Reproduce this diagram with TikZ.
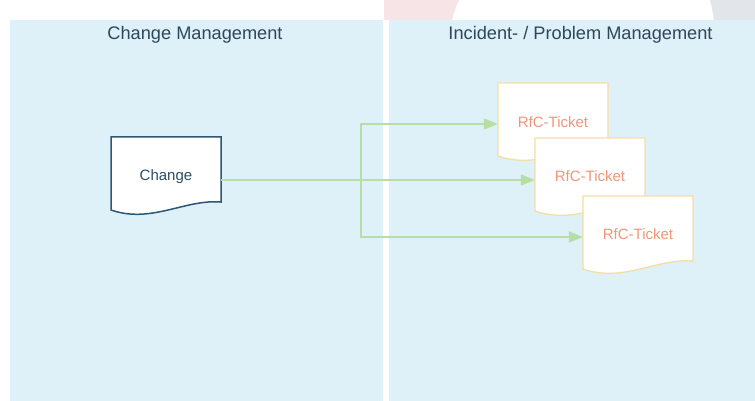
\documentclass[tikz,border=0pt]{standalone}
\usepackage{fontspec}
\setmainfont{Liberation Sans}
\usetikzlibrary{arrows.meta}
\definecolor{lane}{RGB}{222,240,248}
\definecolor{headtxt}{RGB}{45,72,92}
\definecolor{chgborder}{RGB}{44,88,118}
\definecolor{chgtxt}{RGB}{44,78,102}
\definecolor{tkborder}{RGB}{245,222,162}
\definecolor{tktxt}{RGB}{241,150,120}
\definecolor{flow}{RGB}{183,222,164}
\definecolor{pinkbg}{RGB}{247,228,230}
\definecolor{greybg}{RGB}{226,229,233}
\tikzset{
  lanebox/.style={fill=lane, draw=none},
  heading/.style={font=\fontsize{18.2}{21}\selectfont, text=headtxt},
  docnode/.style={minimum width=110pt, minimum height=78pt, inner sep=0pt, font=\fontsize{15}{18}\selectfont},
  chgdoc/.style={fill=white, draw=chgborder, line width=1.5pt},
  tkdoc/.style={fill=white, draw=tkborder, line width=1.3pt},
  flowline/.style={draw=flow, line width=1.5pt},
  flowarrow/.style={flowline, -{Triangle[length=14pt,width=11pt]}},
}
% document outline: #1 style, #2 left x, #3 top y
\newcommand\docoutline[3]{%
  \path[#1] (#2,#3) -- ++(110,0) -- ++(0,65)
    .. controls ++(-36,-3) and ++(40,14) .. ++(-110,8) -- cycle;
}
\begin{document}
\begin{tikzpicture}[x=1pt,y=-1pt]
\useasboundingbox (0,0) rectangle (755,401);
\fill[white] (0,0) rectangle (755,401);
% faint background decoration at top
\fill[pinkbg] (384,0) -- (459,0) .. controls (456,7) and (453,14) .. (452,20) -- (384,20) -- cycle;
\fill[greybg] (710,0) .. controls (712,7) and (713,14) .. (714,20) -- (755,20) -- (755,0) -- cycle;
% lanes
\path[lanebox] (10,20) rectangle (383,401);
\path[lanebox] (389,20) rectangle (755,401);
\node[heading] (h1) at (195,35) {Change Management};
\node[heading] (h2) at (580.5,35) {Incident- / Problem Management};
% Change document
\docoutline{chgdoc}{111}{137}
\node[docnode, text=chgtxt] (c) at (166,177) {Change};
% RfC tickets
\docoutline{tkdoc}{498}{83}
\node[docnode, text=tktxt] (t1) at (553,122) {RfC-Ticket};
\docoutline{tkdoc}{535}{138}
\node[docnode, text=tktxt] (t2) at (590,176.5) {RfC-Ticket};
\docoutline{tkdoc}{583}{196}
\node[docnode, text=tktxt] (t3) at (638,234) {RfC-Ticket};
% connectors
\coordinate (j) at (361,180);
\draw[flowarrow] ([yshift=-3pt]c.east) -- ([yshift=-3.5pt]t2.west);
\draw[flowarrow] (j) |- ([yshift=-2pt]t1.west);
\draw[flowarrow] (j) |- ([yshift=-3pt]t3.west);
\end{tikzpicture}
\end{document}
